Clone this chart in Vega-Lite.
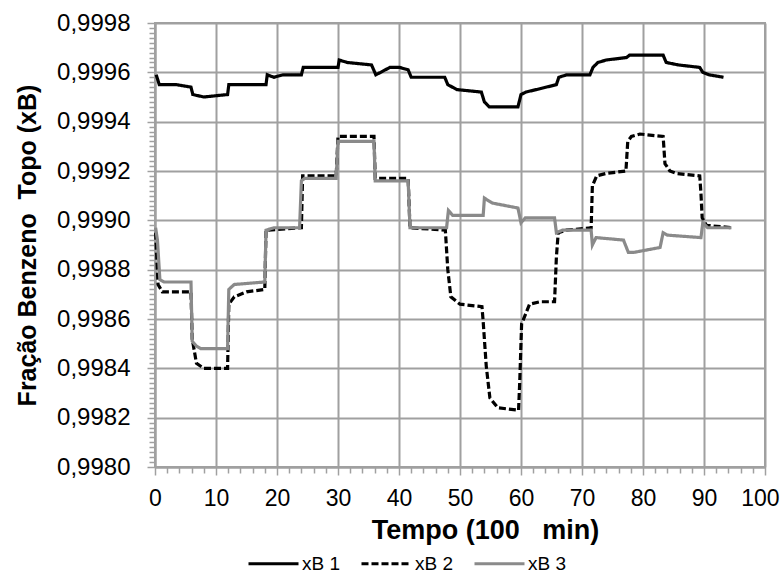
{
"$schema":"https://vega.github.io/schema/vega-lite/v6.json",
"width":610,"height":444,
"autosize":{"type":"none"},
"padding":{"left":155,"top":23,"right":15,"bottom":108},
"config":{"font":"Liberation Sans","view":{"stroke":"#a0a0a0","strokeWidth":2}},
"data":{"values":[
{"s":"xB 1","t":0.2,"v":0.99959},{"s":"xB 1","t":0.7,"v":0.99955},{"s":"xB 1","t":3.5,"v":0.99955},{"s":"xB 1","t":5.9,"v":0.99954},{"s":"xB 1","t":6.2,"v":0.99951},{"s":"xB 1","t":8,"v":0.9995},{"s":"xB 1","t":11.9,"v":0.99951},{"s":"xB 1","t":12.1,"v":0.99955},{"s":"xB 1","t":18.2,"v":0.99955},{"s":"xB 1","t":18.4,"v":0.99959},{"s":"xB 1","t":19.5,"v":0.99958},{"s":"xB 1","t":21,"v":0.99959},{"s":"xB 1","t":24,"v":0.99959},{"s":"xB 1","t":24.3,"v":0.99962},{"s":"xB 1","t":30,"v":0.99962},{"s":"xB 1","t":30.2,"v":0.99965},{"s":"xB 1","t":31.5,"v":0.99964},{"s":"xB 1","t":35.5,"v":0.99963},{"s":"xB 1","t":36.2,"v":0.99959},{"s":"xB 1","t":37,"v":0.9996},{"s":"xB 1","t":38.5,"v":0.99962},{"s":"xB 1","t":40.1,"v":0.99962},{"s":"xB 1","t":41.5,"v":0.99961},{"s":"xB 1","t":42,"v":0.99958},{"s":"xB 1","t":47.5,"v":0.99958},{"s":"xB 1","t":48,"v":0.99955},{"s":"xB 1","t":49.5,"v":0.99953},{"s":"xB 1","t":53.5,"v":0.99952},{"s":"xB 1","t":54,"v":0.99948},{"s":"xB 1","t":54.8,"v":0.99946},{"s":"xB 1","t":59.5,"v":0.99946},{"s":"xB 1","t":60,"v":0.99951},{"s":"xB 1","t":60.8,"v":0.99952},{"s":"xB 1","t":62.5,"v":0.99953},{"s":"xB 1","t":65.8,"v":0.99955},{"s":"xB 1","t":66.2,"v":0.99958},{"s":"xB 1","t":67.5,"v":0.99959},{"s":"xB 1","t":71.3,"v":0.99959},{"s":"xB 1","t":71.8,"v":0.99962},{"s":"xB 1","t":72.6,"v":0.99964},{"s":"xB 1","t":74,"v":0.99965},{"s":"xB 1","t":77.3,"v":0.99966},{"s":"xB 1","t":77.8,"v":0.99967},{"s":"xB 1","t":83.3,"v":0.99967},{"s":"xB 1","t":83.8,"v":0.99964},{"s":"xB 1","t":85.8,"v":0.99963},{"s":"xB 1","t":89.3,"v":0.99962},{"s":"xB 1","t":89.8,"v":0.9996},{"s":"xB 1","t":90.8,"v":0.99959},{"s":"xB 1","t":93.2,"v":0.99958},
{"s":"xB 2","t":0.1,"v":0.99895},{"s":"xB 2","t":0.5,"v":0.99874},{"s":"xB 2","t":1.2,"v":0.99871},{"s":"xB 2","t":5.9,"v":0.99871},{"s":"xB 2","t":6.1,"v":0.99852},{"s":"xB 2","t":6.8,"v":0.99842},{"s":"xB 2","t":8,"v":0.9984},{"s":"xB 2","t":11.9,"v":0.9984},{"s":"xB 2","t":12.1,"v":0.99866},{"s":"xB 2","t":13,"v":0.99869},{"s":"xB 2","t":15,"v":0.99871},{"s":"xB 2","t":18,"v":0.99872},{"s":"xB 2","t":18.2,"v":0.99896},{"s":"xB 2","t":24,"v":0.99897},{"s":"xB 2","t":24.2,"v":0.99918},{"s":"xB 2","t":29.7,"v":0.99918},{"s":"xB 2","t":30,"v":0.99934},{"s":"xB 2","t":35.9,"v":0.99934},{"s":"xB 2","t":36.1,"v":0.99917},{"s":"xB 2","t":41.5,"v":0.99917},{"s":"xB 2","t":41.8,"v":0.99897},{"s":"xB 2","t":47.6,"v":0.99896},{"s":"xB 2","t":48,"v":0.9988},{"s":"xB 2","t":48.5,"v":0.99869},{"s":"xB 2","t":50,"v":0.99866},{"s":"xB 2","t":53.6,"v":0.99865},{"s":"xB 2","t":53.8,"v":0.99859},{"s":"xB 2","t":54.3,"v":0.99841},{"s":"xB 2","t":54.9,"v":0.99828},{"s":"xB 2","t":56.2,"v":0.99824},{"s":"xB 2","t":59.6,"v":0.99823},{"s":"xB 2","t":59.8,"v":0.99835},{"s":"xB 2","t":60.1,"v":0.99858},{"s":"xB 2","t":61.4,"v":0.99866},{"s":"xB 2","t":63.1,"v":0.99867},{"s":"xB 2","t":65.5,"v":0.99867},{"s":"xB 2","t":65.8,"v":0.99885},{"s":"xB 2","t":66.1,"v":0.99895},{"s":"xB 2","t":67.4,"v":0.99896},{"s":"xB 2","t":71.5,"v":0.99897},{"s":"xB 2","t":71.7,"v":0.99914},{"s":"xB 2","t":72.4,"v":0.99918},{"s":"xB 2","t":73.9,"v":0.99919},{"s":"xB 2","t":77.2,"v":0.9992},{"s":"xB 2","t":77.5,"v":0.99932},{"s":"xB 2","t":78.1,"v":0.99934},{"s":"xB 2","t":79.5,"v":0.99935},{"s":"xB 2","t":83.3,"v":0.99934},{"s":"xB 2","t":83.6,"v":0.99923},{"s":"xB 2","t":84.4,"v":0.9992},{"s":"xB 2","t":85.5,"v":0.99919},{"s":"xB 2","t":89.3,"v":0.99918},{"s":"xB 2","t":89.5,"v":0.99911},{"s":"xB 2","t":89.7,"v":0.99901},{"s":"xB 2","t":90.4,"v":0.99898},{"s":"xB 2","t":94.5,"v":0.99897},
{"s":"xB 3","t":0.1,"v":0.99897},{"s":"xB 3","t":0.4,"v":0.99892},{"s":"xB 3","t":0.8,"v":0.99876},{"s":"xB 3","t":1.5,"v":0.99875},{"s":"xB 3","t":5.9,"v":0.99875},{"s":"xB 3","t":6.1,"v":0.99851},{"s":"xB 3","t":6.8,"v":0.99849},{"s":"xB 3","t":7.5,"v":0.99848},{"s":"xB 3","t":11.9,"v":0.99848},{"s":"xB 3","t":12.1,"v":0.99872},{"s":"xB 3","t":13,"v":0.99874},{"s":"xB 3","t":18,"v":0.99875},{"s":"xB 3","t":18.2,"v":0.99896},{"s":"xB 3","t":19.5,"v":0.99897},{"s":"xB 3","t":23.7,"v":0.99897},{"s":"xB 3","t":24,"v":0.99916},{"s":"xB 3","t":24.5,"v":0.99917},{"s":"xB 3","t":29.7,"v":0.99917},{"s":"xB 3","t":30,"v":0.99932},{"s":"xB 3","t":35.9,"v":0.99932},{"s":"xB 3","t":36.1,"v":0.99916},{"s":"xB 3","t":41.5,"v":0.99916},{"s":"xB 3","t":41.8,"v":0.99897},{"s":"xB 3","t":47.8,"v":0.99897},{"s":"xB 3","t":48.1,"v":0.99904},{"s":"xB 3","t":48.8,"v":0.99902},{"s":"xB 3","t":53.8,"v":0.99902},{"s":"xB 3","t":54,"v":0.99909},{"s":"xB 3","t":55.3,"v":0.99907},{"s":"xB 3","t":59.5,"v":0.99905},{"s":"xB 3","t":60,"v":0.99899},{"s":"xB 3","t":60.7,"v":0.99901},{"s":"xB 3","t":65.5,"v":0.99901},{"s":"xB 3","t":65.8,"v":0.99895},{"s":"xB 3","t":66.8,"v":0.99896},{"s":"xB 3","t":71.5,"v":0.99896},{"s":"xB 3","t":71.7,"v":0.9989},{"s":"xB 3","t":72.3,"v":0.99893},{"s":"xB 3","t":76.8,"v":0.99892},{"s":"xB 3","t":77.6,"v":0.99887},{"s":"xB 3","t":78.5,"v":0.99887},{"s":"xB 3","t":82.8,"v":0.99889},{"s":"xB 3","t":83.3,"v":0.99895},{"s":"xB 3","t":84,"v":0.99894},{"s":"xB 3","t":89.5,"v":0.99893},{"s":"xB 3","t":89.8,"v":0.99899},{"s":"xB 3","t":90.6,"v":0.99897},{"s":"xB 3","t":94.5,"v":0.99897}
]},
"mark":{"type":"line","strokeWidth":3.2,"interpolate":"linear"},
"encoding":{
"x":{"field":"t","type":"quantitative","scale":{"domain":[0,100],"nice":false,"zero":false},
 "axis":{"values":[0,2,4,6,8,10,12,14,16,18,20,22,24,26,28,30,32,34,36,38,40,42,44,46,48,50,52,54,56,58,60,62,64,66,68,70,72,74,76,78,80,82,84,86,88,90,92,94,96,98,100],
 "labelExpr":"datum.value % 10 == 0 ? datum.label : ''",
 "tickSize":{"condition":{"test":"datum.value % 10 == 0","value":8},"value":6},
 "gridOpacity":{"condition":{"test":"datum.value % 10 == 0","value":1},"value":0},
 "labelAlign":{"condition":{"test":"datum.value == 100","value":"right"},"value":"center"},
 "labelOffset":{"condition":{"test":"datum.value == 100","value":14},"value":0},
 "grid":true,"gridColor":"#a0a0a0","gridWidth":2,"domainColor":"#a0a0a0","domainWidth":2,"tickColor":"#a0a0a0","tickWidth":1.5,
 "labelFontSize":23,"labelColor":"#000000","labelPadding":12,"labelOverlap":false,"labelFlush":false,
 "title":"Tempo (100\u00a0\u00a0 min)","titleFontSize":27,"titleFontWeight":"bold","titleColor":"#000000","titlePadding":7,"titleX":330}},
"y":{"field":"v","type":"quantitative","scale":{"domain":[0.998,0.9998],"nice":false,"zero":false},
 "axis":{"values":[0.998,0.99802,0.99804,0.99806,0.99808,0.9981,0.99812,0.99814,0.99816,0.99818,0.9982,0.99822,0.99824,0.99826,0.99828,0.9983,0.99832,0.99834,0.99836,0.99838,0.9984,0.99842,0.99844,0.99846,0.99848,0.9985,0.99852,0.99854,0.99856,0.99858,0.9986,0.99862,0.99864,0.99866,0.99868,0.9987,0.99872,0.99874,0.99876,0.99878,0.9988,0.99882,0.99884,0.99886,0.99888,0.9989,0.99892,0.99894,0.99896,0.99898,0.999,0.99902,0.99904,0.99906,0.99908,0.9991,0.99912,0.99914,0.99916,0.99918,0.9992,0.99922,0.99924,0.99926,0.99928,0.9993,0.99932,0.99934,0.99936,0.99938,0.9994,0.99942,0.99944,0.99946,0.99948,0.9995,0.99952,0.99954,0.99956,0.99958,0.9996,0.99962,0.99964,0.99966,0.99968,0.9997,0.99972,0.99974,0.99976,0.99978,0.9998],
 "labelExpr":"abs(datum.value*5000 - round(datum.value*5000)) < 0.01 ? replace(format(datum.value, '.4f'), '.', ',') : ''",
 "tickSize":{"condition":{"test":"abs(datum.value*5000 - round(datum.value*5000)) < 0.01","value":8},"value":6},
 "gridOpacity":{"condition":{"test":"abs(datum.value*5000 - round(datum.value*5000)) < 0.01","value":1},"value":0},
 "grid":true,"gridColor":"#a0a0a0","gridWidth":2,"domainColor":"#a0a0a0","domainWidth":2,"tickColor":"#a0a0a0","tickWidth":1.5,
 "labelFontSize":24,"labelColor":"#000000","labelPadding":17,"labelOverlap":false,"labelFlush":false,
 "title":"Fração Benzeno\u00a0 Topo (xB)","titleFontSize":25,"titleFontWeight":"bold","titleColor":"#000000","titlePadding":16}},
"color":{"field":"s","type":"nominal","scale":{"domain":["xB 1","xB 2","xB 3"],"range":["#000000","#000000","#8a8a8a"]},
 "legend":{"orient":"none","legendX":92,"legendY":514,"direction":"horizontal","title":null,"symbolType":"stroke","symbolSize":2500,"symbolStrokeWidth":3,"labelFontSize":19,"labelColor":"#000000","labelOffset":2,"columnPadding":14}},
"strokeDash":{"field":"s","type":"nominal","scale":{"domain":["xB 1","xB 2","xB 3"],"range":[[1,0],[7,3],[1,0]]},
 "legend":{"orient":"none","legendX":92,"legendY":514,"direction":"horizontal","title":null,"symbolType":"stroke","symbolSize":2500,"symbolStrokeWidth":3,"labelFontSize":19,"labelColor":"#000000","labelOffset":2,"columnPadding":14}}
}
}
